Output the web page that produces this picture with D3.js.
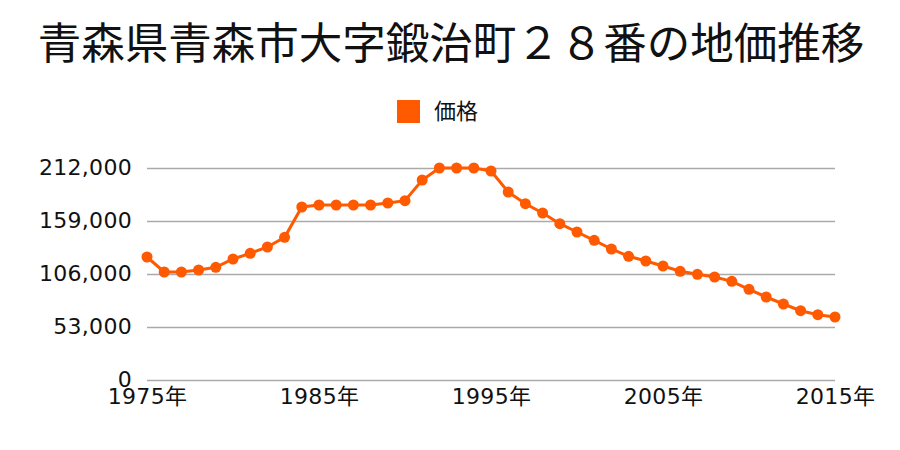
<!DOCTYPE html>
<html><head><meta charset="utf-8">
<script src="https://cdn.jsdelivr.net/npm/d3@7"></script>
<style>body{margin:0;background:#fff}</style>
</head><body>
<svg id="c" width="900" height="450"></svg>
<script>
const title = "青森県青森市大字鍛治町２８番の地価推移";
const seriesName = "価格";
const years = [1975,1976,1977,1978,1979,1980,1981,1982,1983,1984,1985,1986,1987,1988,1989,1990,1991,1992,1993,1994,1995,1996,1997,1998,1999,2000,2001,2002,2003,2004,2005,2006,2007,2008,2009,2010,2011,2012,2013,2014,2015];
const prices = [123000,108000,108000,110000,112700,121000,126700,133000,142700,173000,175000,175000,175000,175000,177000,179300,200000,212000,212000,212000,209000,188000,176300,167000,156300,148000,139700,131000,123700,119000,114000,108700,105700,103000,98700,90700,83000,76000,69300,65300,63000];
const yTicks = [0,53000,106000,159000,212000];
const xTicks = [1975,1985,1995,2005,2015];

const svg = d3.select("#c");
const font = "'DejaVu Sans','Noto Sans CJK JP',sans-serif";
const cjk = "'Noto Sans CJK JP',sans-serif";
const x = d3.scaleLinear().domain([1975,2015]).range([147,835]);
const y = d3.scaleLinear().domain([0,212000]).range([380,168]);
const color = "#ff5a00";

svg.append("text").attr("x",451).attr("y",59).attr("text-anchor","middle")
  .attr("font-family",cjk).attr("font-size",43.5).attr("fill","#111").text(title);

svg.append("rect").attr("x",397).attr("y",100).attr("width",23).attr("height",23).attr("fill",color);
svg.append("text").attr("x",434).attr("y",119).attr("font-family",cjk).attr("font-size",22).attr("fill","#111").text(seriesName);

const yAxis = d3.axisLeft(y).tickValues(yTicks).tickSize(-(835-147)).tickPadding(15)
  .tickFormat(d3.format(","));
const gy = svg.append("g").attr("transform","translate(147,0)").call(yAxis);
gy.select(".domain").remove();
gy.selectAll("line").attr("stroke","#aaa").attr("stroke-width",1.5);
gy.selectAll("text").attr("font-family",font).attr("font-size",22).attr("letter-spacing",0.3).attr("fill","#111").attr("dy","0.3em");

const xAxis = d3.axisBottom(x).tickValues(xTicks).tickSize(0).tickPadding(8).tickFormat(d=>d+"年");
const gx = svg.append("g").attr("transform","translate(0,380)").call(xAxis);
gx.select(".domain").remove();
gx.selectAll("text").attr("font-family",font).attr("font-size",22).attr("letter-spacing",0.3).attr("fill","#111");

const data = years.map((yr,i)=>({yr,v:prices[i]}));
svg.append("path").datum(data)
  .attr("d", d3.line().x(d=>x(d.yr)).y(d=>y(d.v)))
  .attr("fill","none").attr("stroke",color).attr("stroke-width",3);
svg.selectAll("circle.pt").data(data).enter().append("circle").attr("class","pt")
  .attr("cx",d=>x(d.yr)).attr("cy",d=>y(d.v)).attr("r",5.5).attr("fill",color);
</script>
</body></html>
